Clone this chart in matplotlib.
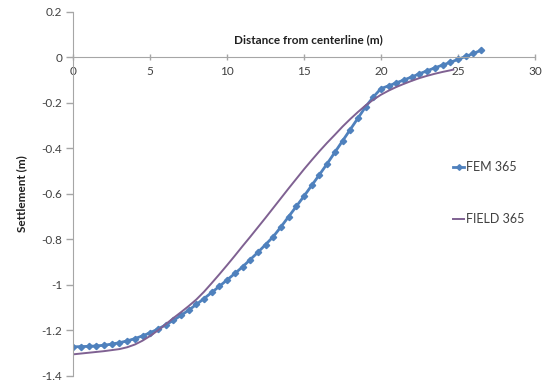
import matplotlib
matplotlib.use("Agg")
import matplotlib.pyplot as plt

# Settlement profile: FEM results (every 0.5 m) and field measurements
fem_x = [0.0, 0.5, 1.0, 1.5, 2.0, 2.5, 3.0, 3.5, 4.0, 4.5, 5.0, 5.5, 6.0, 6.5,
         7.0, 7.5, 8.0, 8.5, 9.0, 9.5, 10.0, 10.5, 11.0, 11.5, 12.0, 12.5,
         13.0, 13.5, 14.0, 14.5, 15.0, 15.5, 16.0, 16.5, 17.0, 17.5, 18.0,
         18.5, 19.0, 19.5, 20.0, 20.5, 21.0, 21.5, 22.0, 22.5, 23.0, 23.5,
         24.0, 24.5, 25.0, 25.5, 26.0, 26.5]
fem_y = [-1.272, -1.271, -1.270, -1.268, -1.265, -1.260, -1.254, -1.246,
         -1.236, -1.224, -1.210, -1.194, -1.176, -1.156, -1.134, -1.111,
         -1.086, -1.060, -1.033, -1.006, -0.978, -0.950, -0.921, -0.889,
         -0.857, -0.823, -0.788, -0.745, -0.700, -0.655, -0.610, -0.563,
         -0.516, -0.468, -0.418, -0.368, -0.318, -0.268, -0.218, -0.175,
         -0.138, -0.126, -0.113, -0.100, -0.087, -0.073, -0.060, -0.047,
         -0.035, -0.023, -0.010, 0.003, 0.016, 0.030]

field_x = [0.0, 1.0, 2.0, 3.0, 3.5, 4.0, 4.5, 5.0, 5.5, 6.0, 6.5, 7.0, 7.5,
           8.0, 8.5, 9.0, 9.5, 10.0, 10.5, 11.0, 11.5, 12.0, 12.5, 13.0,
           13.5, 14.0, 14.5, 15.0, 15.5, 16.0, 16.5, 17.0, 17.5, 18.0, 18.5,
           19.0, 19.5, 20.0, 20.5, 21.0, 21.5, 22.0, 22.5, 23.0, 23.5, 24.0,
           24.5, 24.7]
field_y = [-1.305, -1.298, -1.291, -1.282, -1.274, -1.262, -1.245, -1.224,
           -1.200, -1.173, -1.146, -1.120, -1.093, -1.064, -1.030, -0.992,
           -0.953, -0.913, -0.872, -0.830, -0.789, -0.747, -0.705, -0.662,
           -0.619, -0.576, -0.534, -0.492, -0.452, -0.413, -0.376, -0.341,
           -0.305, -0.272, -0.241, -0.212, -0.187, -0.165, -0.147, -0.131,
           -0.117, -0.104, -0.092, -0.082, -0.073, -0.065, -0.058, -0.055]

x_ticks = [0, 5, 10, 15, 20, 25, 30]
y_ticks = [0.2, 0, -0.2, -0.4, -0.6, -0.8, -1, -1.2, -1.4]
y_tick_labels = ["0.2", "0", "-0.2", "-0.4", "-0.6", "-0.8", "-1", "-1.2", "-1.4"]

plt.rcParams['font.family'] = ['Lato', 'DejaVu Sans']
axis_grey = '#a6a6a6'
text_col = '#404040'

fig = plt.figure(figsize=(5.43, 3.86), dpi=100)
ax = fig.add_axes([0.135, 0.026, 0.850, 0.944])

ax.plot(fem_x, fem_y, color='#4f81bd', lw=2.0, marker='D', markersize=3.2,
        label='FEM 365')
ax.plot(field_x, field_y, color='#7f6192', lw=1.4, label='FIELD 365')

ax.set_xlim(0, 30)
ax.set_ylim(-1.4, 0.2)

# x axis sits on the zero line, no frame around the plot
ax.spines['top'].set_visible(False)
ax.spines['right'].set_visible(False)
ax.spines['bottom'].set_position(('data', 0))
ax.spines['bottom'].set_color(axis_grey)
ax.spines['left'].set_color(axis_grey)

ax.set_xticks(x_ticks)
ax.set_xticklabels([str(t) for t in x_ticks])
ax.set_yticks(y_ticks)
ax.set_yticklabels(y_tick_labels)
ax.tick_params(axis='x', direction='inout', length=5, width=1, color=axis_grey,
               labelsize=8.5, labelcolor=text_col, pad=4)
ax.tick_params(axis='y', direction='out', length=5, width=1, color=axis_grey,
               labelsize=8.5, labelcolor=text_col, pad=3)

ax.set_ylabel('Settlement (m)', fontsize=8.5, fontweight='bold', color='#202020',
              labelpad=10)
ax.text(15.3, 0.075, 'Distance from centerline (m)', ha='center', va='center',
        fontsize=8.5, fontweight='bold', color='#202020')

ax.legend(loc='center left', bbox_to_anchor=(453 / 543, 1 - 193 / 386),
          bbox_transform=fig.transFigure, frameon=False, fontsize=9,
          handlelength=0.9, handletextpad=0.15, labelspacing=3.2,
          borderpad=0, borderaxespad=0, markerscale=0.9, labelcolor=text_col)

fig.savefig('out.png', dpi=100)
